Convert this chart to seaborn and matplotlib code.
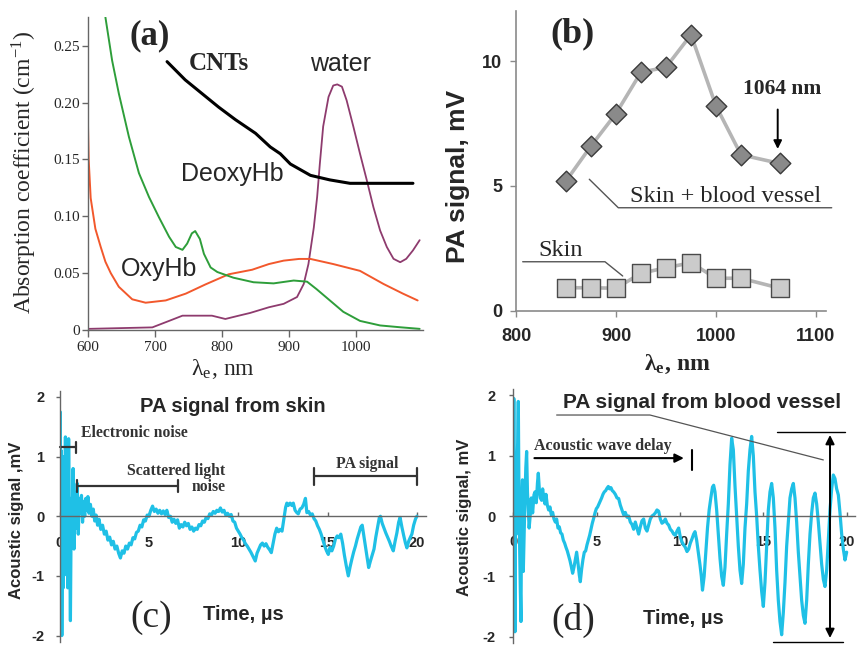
import matplotlib
matplotlib.use("Agg")
import matplotlib.pyplot as plt
import seaborn as sns

# ---------------- data ----------------
# (a) absorption spectra
wl_cnt = [718, 745, 770, 795, 820, 850, 872, 887, 902, 932, 961, 991, 1040, 1085]
ab_cnt = [0.236, 0.220, 0.208, 0.196, 0.185, 0.173, 0.161, 0.155, 0.146, 0.136, 0.132, 0.129, 0.129, 0.129]

wl_deoxy = [626, 636, 646, 661, 676, 691, 706, 721, 731, 741, 748, 755, 760, 767, 773, 783, 793,
            817, 847, 877, 907, 927, 941, 961, 981, 1006, 1036, 1066, 1095]
ab_deoxy = [0.275, 0.237, 0.208, 0.170, 0.138, 0.117, 0.099, 0.082, 0.073, 0.0705, 0.076, 0.085, 0.087,
            0.080, 0.067, 0.055, 0.051, 0.046, 0.042, 0.041, 0.0435, 0.0425, 0.036, 0.026, 0.016,
            0.008, 0.004, 0.0024, 0.001]

wl_oxy = [600, 601, 604, 611, 619, 626, 634, 646, 666, 686, 716, 746, 775, 810, 845, 870, 892,
          915, 932, 966, 1006, 1041, 1070, 1092]
ab_oxy = [0.180, 0.150, 0.116, 0.089, 0.073, 0.060, 0.050, 0.038, 0.027, 0.024, 0.026, 0.032,
          0.040, 0.049, 0.053, 0.058, 0.061, 0.0625, 0.0625, 0.058, 0.052, 0.0405, 0.032, 0.026]

wl_water = [600, 696, 721, 741, 785, 805, 825, 842, 870, 892, 912, 922, 929, 937, 942, 946, 951,
            959, 966, 972, 979, 986, 996, 1006, 1016, 1026, 1036, 1046, 1056, 1066, 1075, 1085, 1095]
ab_water = [0.001, 0.0023, 0.008, 0.0126, 0.0126, 0.0097, 0.0126, 0.015, 0.020, 0.023, 0.029,
            0.0405, 0.058, 0.090, 0.117, 0.146, 0.179, 0.205, 0.215, 0.216, 0.214, 0.202, 0.179,
            0.155, 0.132, 0.108, 0.0875, 0.073, 0.0626, 0.0596, 0.0626, 0.070, 0.079]

# (b) PA signal vs wavelength
wl_pa = [850, 875, 900, 925, 950, 975, 1000, 1025, 1064]
pa_vessel = [5.2, 6.6, 7.9, 9.55, 9.75, 11.05, 8.2, 6.25, 5.9]
pa_skin = [0.93, 0.93, 0.91, 1.51, 1.73, 1.93, 1.31, 1.31, 0.91]

# (c) PA signal from skin
t_skin = [0.00, 0.03, 0.06, 0.09, 0.12, 0.16, 0.20, 0.24, 0.28, 0.32, 0.36, 0.40, 0.45, 0.50, 0.55,
          0.60, 0.65, 0.70, 0.75, 0.80, 0.86, 0.92, 0.98, 1.04, 1.10, 1.16, 1.22, 1.28, 1.34, 1.40,
          1.46, 1.52, 1.58, 1.64, 1.72, 1.80, 1.88, 1.96, 2.04, 2.12, 2.20, 2.30, 2.40, 2.50, 2.60,
          2.70, 2.80, 2.90, 3.00, 3.10, 3.20, 3.30, 3.40, 3.50, 3.60, 3.70, 3.80, 3.90, 4.00, 4.10,
          4.20, 4.30, 4.40, 4.50, 4.60, 4.70, 4.80, 4.90, 5.00, 5.10, 5.20, 5.30, 5.40, 5.50, 5.60,
          5.70, 5.80, 5.90, 6.00, 6.10, 6.20, 6.30, 6.40, 6.50, 6.60, 6.70, 6.80, 6.90, 7.00, 7.10,
          7.20, 7.30, 7.40, 7.50, 7.60, 7.70, 7.80, 7.90, 8.00, 8.10, 8.20, 8.30, 8.40, 8.50, 8.60,
          8.70, 8.80, 8.90, 9.00, 9.10, 9.20, 9.30, 9.40, 9.50, 9.60, 9.70, 9.80, 9.90, 10.00, 10.10,
          10.20, 10.30, 10.40, 10.50, 10.60, 10.70, 10.80, 10.90, 10.95, 11.05, 11.15, 11.25, 11.35,
          11.45, 11.55, 11.65, 11.75, 11.85, 11.95, 12.05, 12.15, 12.25, 12.35, 12.45, 12.55, 12.65,
          12.72, 12.80, 12.90, 13.00, 13.08, 13.18, 13.28, 13.36, 13.46, 13.56, 13.66, 13.76, 13.84,
          13.94, 14.04, 14.14, 14.24, 14.34, 14.44, 14.54, 14.64, 14.74, 14.84, 14.94, 15.04, 15.14,
          15.24, 15.34, 15.44, 15.54, 15.64, 15.74, 15.84, 15.94, 16.04, 16.16, 16.26, 16.36, 16.46,
          16.56, 16.66, 16.76, 16.86, 16.94, 17.04, 17.14, 17.24, 17.30, 17.40, 17.50, 17.60, 17.70,
          17.80, 17.90, 17.96, 18.06, 18.16, 18.26, 18.36, 18.46, 18.56, 18.68, 18.78, 18.88, 18.98,
          19.06, 19.16, 19.26, 19.36, 19.44, 19.54, 19.64, 19.72, 19.82, 19.92, 20.00]
v_skin = [0.00, 1.75, -0.40, 1.10, -2.00, 0.60, -1.20, 1.00, -0.60, 1.33, -0.98, 0.90, -1.20, 1.30, -0.30,
          -1.75, 0.30, -0.50, 0.80, -0.55, 0.40, -0.20, 0.55, -0.30, 0.30, 0.05, 0.35, -0.10, 0.25, 0.00,
          0.30, 0.10, 0.33, 0.05, 0.20, 0.00, 0.12, -0.08, 0.02, -0.15, -0.05, -0.22, -0.15, -0.30, -0.25,
          -0.40, -0.35, -0.48, -0.42, -0.55, -0.50, -0.62, -0.70, -0.58, -0.62, -0.50, -0.55, -0.45, -0.48, -0.36,
          -0.38, -0.27, -0.25, -0.15, -0.18, -0.06, -0.08, 0.02, 0.00, 0.10, 0.17, 0.08, 0.12, 0.05, 0.10,
          0.04, 0.09, 0.03, 0.10, -0.02, 0.00, -0.10, -0.05, -0.12, -0.06, -0.20, -0.14, -0.18, -0.10, -0.16,
          -0.12, -0.22, -0.18, -0.25, -0.20, -0.22, -0.14, -0.16, -0.08, -0.10, -0.02, -0.04, 0.04, 0.02, 0.08,
          0.05, 0.10, 0.08, 0.14, 0.07, 0.10, 0.02, 0.05, 0.00, 0.03, -0.08, -0.10, -0.20, -0.25, -0.30,
          -0.36, -0.40, -0.46, -0.50, -0.55, -0.60, -0.66, -0.72, -0.75, -0.62, -0.55, -0.48, -0.45,
          -0.50, -0.46, -0.52, -0.56, -0.61, -0.45, -0.30, -0.20, -0.26, -0.22, -0.25, -0.05, 0.15,
          0.22, 0.18, 0.22, 0.18, 0.22, 0.10, 0.06, 0.04, 0.12, 0.14, 0.20, 0.30, 0.06,
          0.08, 0.02, 0.04, -0.04, -0.08, -0.16, -0.22, -0.30, -0.40, -0.50, -0.58, -0.64, -0.52,
          -0.58, -0.50, -0.38, -0.33, -0.36, -0.30, -0.45, -0.65, -0.82, -1.00, -0.85, -0.72, -0.60,
          -0.50, -0.38, -0.28, -0.18, -0.15, -0.35, -0.55, -0.75, -0.86, -0.75, -0.65, -0.55, -0.35,
          -0.18, -0.02, 0.00, -0.12, -0.20, -0.28, -0.35, -0.42, -0.50, -0.58, -0.42, -0.28, -0.10,
          -0.02, -0.18, -0.32, -0.45, -0.53, -0.42, -0.35, -0.30, -0.15, -0.05, 0.00]

# (d) PA signal from blood vessel
t_vessel = [0.00, 0.03, 0.07, 0.10, 0.14, 0.18, 0.22, 0.26, 0.30, 0.34, 0.38, 0.42, 0.46, 0.50, 0.55,
            0.60, 0.65, 0.70, 0.75, 0.80, 0.85, 0.90, 0.95, 1.00, 1.08, 1.16, 1.24, 1.30, 1.38, 1.45,
            1.50, 1.56, 1.62, 1.70, 1.76, 1.82, 1.90, 1.96, 2.04, 2.12, 2.20, 2.28, 2.36, 2.44, 2.52,
            2.60, 2.68, 2.76, 2.84, 2.92, 3.00, 3.08, 3.16, 3.24, 3.32, 3.40, 3.48, 3.56, 3.64, 3.72,
            3.80, 3.88, 3.96, 4.02, 4.10, 4.18, 4.26, 4.34, 4.42, 4.50, 4.58, 4.66, 4.74, 4.82, 4.90,
            4.98, 5.06, 5.14, 5.22, 5.30, 5.38, 5.46, 5.54, 5.62, 5.70, 5.78, 5.86, 5.94, 6.02, 6.12,
            6.22, 6.32, 6.42, 6.52, 6.62, 6.72, 6.82, 6.92, 7.02, 7.12, 7.22, 7.32, 7.42, 7.52, 7.62,
            7.72, 7.82, 7.92, 8.02, 8.12, 8.22, 8.32, 8.42, 8.52, 8.62, 8.72, 8.82, 8.92, 9.02, 9.12,
            9.22, 9.32, 9.42, 9.52, 9.62, 9.72, 9.82, 9.92, 10.02, 10.12, 10.22, 10.32, 10.42, 10.52,
            10.62, 10.72, 10.82, 10.90, 11.00, 11.10, 11.20, 11.28, 11.35, 11.45, 11.55, 11.65, 11.75,
            11.85, 11.95, 12.02, 12.10, 12.20, 12.30, 12.40, 12.50, 12.60, 12.70, 12.80, 12.90, 13.00,
            13.10, 13.20, 13.30, 13.40, 13.50, 13.60, 13.70, 13.80, 13.90, 14.00, 14.10, 14.20, 14.30,
            14.40, 14.50, 14.60, 14.70, 14.80, 14.90, 15.00, 15.10, 15.20, 15.30, 15.40, 15.50, 15.60,
            15.70, 15.80, 15.90, 16.00, 16.10, 16.20, 16.30, 16.40, 16.50, 16.60, 16.70, 16.80, 16.90,
            17.00, 17.10, 17.20, 17.30, 17.40, 17.50, 17.60, 17.70, 17.80, 17.90, 18.00, 18.10, 18.20,
            18.30, 18.40, 18.50, 18.60, 18.70, 18.80, 18.90, 19.00, 19.10, 19.20, 19.30, 19.40, 19.50,
            19.60, 19.70, 19.80, 19.90, 20.00]
v_vessel = [0.00, 1.95, -0.60, -1.92, 0.60, -0.30, 0.80, 1.20, 1.90, 0.40, -0.50, -1.20, -1.75, 0.20, 0.60,
            -0.92, -0.30, 0.30, 0.80, 1.07, 0.40, 0.10, -0.20, -0.04, 0.30, 0.05, 0.35, 0.40, 0.22, 0.55,
            0.71, 0.45, 0.30, 0.26, 0.45, 0.32, 0.20, 0.36, 0.18, 0.10, 0.15, 0.02, 0.06, -0.05, -0.10,
            -0.05, -0.20, -0.18, -0.28, -0.30, -0.40, -0.45, -0.52, -0.58, -0.66, -0.74, -0.84, -0.95, -0.85, -0.72,
            -0.60, -0.78, -0.98, -1.09, -0.88, -0.72, -0.60, -0.58, -0.48, -0.40, -0.32, -0.22, -0.12, -0.04, 0.05,
            0.12, 0.15, 0.20, 0.25, 0.30, 0.36, 0.40, 0.42, 0.46, 0.49, 0.45, 0.47, 0.42, 0.40, 0.36,
            0.30, 0.29, 0.18, 0.10, 0.02, 0.06, -0.02, 0.00, -0.10, -0.14, -0.22, -0.10, -0.20, -0.30, -0.18,
            -0.08, -0.05, -0.20, -0.25, -0.15, -0.05, 0.00, 0.02, 0.05, 0.10, 0.08, -0.05, -0.12, -0.10, -0.05,
            -0.12, -0.15, -0.22, -0.25, -0.30, -0.32, -0.25, -0.20, -0.35, -0.43, -0.48, -0.52, -0.59, -0.55,
            -0.45, -0.38, -0.30, -0.26, -0.40, -0.60, -0.81, -1.00, -1.23, -1.00, -0.60, -0.20, 0.10,
            0.30, 0.48, 0.51, 0.40, 0.10, -0.30, -0.70, -1.00, -1.15, -0.85, -0.30, 0.20, 0.85,
            1.29, 1.10, 0.50, 0.00, -0.50, -0.90, -1.12, -0.80, -0.20, 0.20, 0.75, 1.10, 1.32,
            1.00, 0.40, 0.00, -0.50, -0.90, -1.25, -1.50, -1.10, -0.50, 0.10, 0.40, 0.54, 0.30,
            -0.20, -0.90, -1.40, -1.75, -1.97, -1.60, -1.10, -0.50, -0.10, 0.30, 0.45, 0.54, 0.30,
            -0.10, -0.60, -1.00, -1.40, -1.65, -1.78, -1.40, -0.80, -0.30, 0.05, 0.30, 0.38, 0.20,
            -0.10, -0.45, -0.80, -1.05, -1.17, -0.90, -0.40, 0.10, 0.45, 0.68, 0.62, 0.45, 0.35,
            0.05, -0.30, -0.55, -0.73, -0.60]

x_ticks_a = [600, 700, 800, 900, 1000]
y_ticks_a = [0, 0.05, 0.10, 0.15, 0.20, 0.25]
y_labels_a = ["0", "0.05", "0.10", "0.15", "0.20", "0.25"]
x_ticks_b = [800, 900, 1000, 1100]
y_ticks_b = [0, 5, 10]
t_ticks = [0, 5, 10, 15, 20]
v_ticks = [-2, -1, 0, 1, 2]

# ---------------- style ----------------
sns.set_style("white")
plt.rcParams["font.family"] = ["Liberation Sans", "DejaVu Sans"]
plt.rcParams["mathtext.fontset"] = "stix"
SERIF = ["Liberation Serif", "DejaVu Serif"]
SANS = ["Liberation Sans", "DejaVu Sans"]

W, H = 857, 645
fig = plt.figure(figsize=(W / 100, H / 100), dpi=100)


def axes_px(l, t, r, b):
    return fig.add_axes([l / W, 1 - b / H, (r - l) / W, (b - t) / H])


def ftext(px, py, s, **kw):
    kw.setdefault("ha", "center")
    kw.setdefault("va", "center")
    fig.text(px / W, 1 - py / H, s, **kw)


CYAN = "#1fc0e6"
AXC = "#666666"

# ---------------- (a) ----------------
ax = axes_px(88, 17.3, 423, 330)
ax.set_xlim(600, 1100)
ax.set_ylim(0, 0.275)
sns.lineplot(x=wl_water, y=ab_water, ax=ax, color="#8e3b6e", lw=1.3, estimator=None, sort=False)
sns.lineplot(x=wl_oxy, y=ab_oxy, ax=ax, color="#f2582c", lw=1.4, estimator=None, sort=False)
sns.lineplot(x=wl_deoxy, y=ab_deoxy, ax=ax, color="#2e9e3a", lw=1.4, estimator=None, sort=False)
sns.lineplot(x=wl_cnt, y=ab_cnt, ax=ax, color="black", lw=2.2, estimator=None, sort=False)
for s in ["top", "right"]:
    ax.spines[s].set_visible(False)
for s in ["left", "bottom"]:
    ax.spines[s].set_color(AXC)
    ax.spines[s].set_linewidth(1.0)
ax.set_xticks(x_ticks_a)
ax.set_xticklabels([str(v) for v in x_ticks_a], family=SERIF, fontsize=11)
ax.set_yticks(y_ticks_a)
ax.set_yticklabels(y_labels_a, family=SERIF, fontsize=11)
ax.tick_params(axis="x", direction="out", length=5, width=1, color=AXC, pad=3, bottom=True)
ax.tick_params(axis="y", direction="out", length=4, width=1, color=AXC, pad=2, left=True)
ax.set_xlabel("")
ax.set_ylabel("")

ftext(150, 36, "(a)", family=SERIF, fontsize=25, weight="bold")
ftext(219, 64, "CNTs", family=SERIF, fontsize=18, weight="bold")
ftext(341, 64, "water", family=SANS, fontsize=18)
ftext(232, 174, "DeoxyHb", family=SANS, fontsize=18)
ftext(159, 269, "OxyHb", family=SANS, fontsize=18)
ftext(24, 172, "Absorption coefficient (cm$^{\\mathregular{-1}}$)", family=SERIF, fontsize=17,
      rotation=90)
ftext(223, 369, "λ$_{\\mathregular{e}}$, nm", family=SERIF, fontsize=17)

# ---------------- (b) ----------------
bx = axes_px(516, 11, 826, 311)
bx.set_xlim(800, 1110)
bx.set_ylim(0, 12)
sns.lineplot(x=wl_pa, y=pa_vessel, ax=bx, color="#b5b5b5", lw=2.6, estimator=None, zorder=2)
sns.lineplot(x=wl_pa, y=pa_skin, ax=bx, color="#b5b5b5", lw=2.6, estimator=None, zorder=2)
sns.scatterplot(x=wl_pa, y=pa_vessel, ax=bx, marker="D", s=110, color="#8a8a8a",
                edgecolor="#3a3a3a", linewidth=1.0, zorder=3)
sns.scatterplot(x=wl_pa, y=pa_skin, ax=bx, marker="s", s=170, color="#cbcbcb",
                edgecolor="#4a4a4a", linewidth=1.0, zorder=3)
for s in ["top", "right"]:
    bx.spines[s].set_visible(False)
for s in ["left", "bottom"]:
    bx.spines[s].set_color("#8a8a8a")
    bx.spines[s].set_linewidth(1.2)
bx.set_xticks(x_ticks_b)
bx.set_xticklabels([str(v) for v in x_ticks_b], family=SANS, fontsize=13, weight="bold")
bx.set_yticks(y_ticks_b)
bx.set_yticklabels([str(v) for v in y_ticks_b], family=SANS, fontsize=13, weight="bold")
bx.tick_params(axis="x", direction="out", length=4, width=1, color="#8a8a8a", pad=8, bottom=True)
bx.tick_params(axis="y", direction="out", length=4, width=1, color="#8a8a8a", pad=6, left=True)
bx.set_xlabel("")
bx.set_ylabel("")

bx.plot([873.3, 902.3, 1115.7], [5.27, 4.13, 4.13], color="#555555", lw=1.0, clip_on=False)
bx.plot([806.7, 889, 906.7], [1.97, 1.97, 1.4], color="#555555", lw=1.0, clip_on=False)
bx.annotate("", xy=(1061.7, 6.37), xytext=(1061.7, 8.17),
            arrowprops=dict(arrowstyle="-|>", color="black", lw=1.4, mutation_scale=12))
ftext(572, 34, "(b)", family=SERIF, fontsize=26, weight="bold")
ftext(782, 89, "1064 nm", family=SERIF, fontsize=15.5, weight="bold")
ftext(726, 196, "Skin + blood vessel", family=SERIF, fontsize=17.5)
ftext(561, 250, "Skin", family=SERIF, fontsize=17.5)
ftext(458, 176, "PA signal, mV", family=SANS, fontsize=19, weight="bold", rotation=90)
ftext(677, 364, "λ$_{\\mathregular{e}}$, nm", family=SERIF, fontsize=17, weight="bold")


# ---------------- (c) and (d) shared styling ----------------
def style_signal(a, ypad):
    a.set_xlim(0, 20.5)
    a.set_ylim(-2.1, 2.1)
    for s in ["top", "right"]:
        a.spines[s].set_visible(False)
    a.spines["bottom"].set_position(("data", 0))
    a.spines["left"].set_position(("data", 0))
    for s in ["left", "bottom"]:
        a.spines[s].set_color(AXC)
        a.spines[s].set_linewidth(1.0)
    a.set_xticks(t_ticks)
    a.set_xticklabels([str(v) for v in t_ticks], family=SANS, fontsize=10.5, weight="bold")
    a.set_yticks(v_ticks)
    a.set_yticklabels([str(v) for v in v_ticks], family=SANS, fontsize=10.5, weight="bold")
    a.tick_params(axis="x", direction="in", length=3, width=1, color=AXC, pad=14, bottom=True)
    a.tick_params(axis="y", direction="out", length=3, width=1, color=AXC, pad=ypad, left=True)
    a.set_xlabel("")
    a.set_ylabel("")


# ---------------- (c) ----------------
cx = axes_px(59.7, 391, 425.8, 641.5)
sns.lineplot(x=t_skin, y=v_skin, ax=cx, color=CYAN, lw=2.3, estimator=None, sort=False)
style_signal(cx, 8)
bar = dict(color="#333333", lw=1.6, clip_on=False)
cx.plot([0, 0.91], [1.155, 1.155], **bar)
cx.plot([0.91, 0.91], [1.06, 1.25], **bar)
cx.plot([0.97, 6.62], [0.505, 0.505], **bar)
cx.plot([0.97, 0.97], [0.41, 0.60], **bar)
cx.plot([6.62, 6.62], [0.41, 0.60], **bar)
cx.plot([14.24, 20.0], [0.67, 0.67], **bar)
cx.plot([14.24, 14.24], [0.53, 0.81], **bar)
cx.plot([20.0, 20.0], [0.53, 0.81], **bar)
ftext(233, 407, "PA signal from skin", family=SANS, fontsize=14.5, weight="bold")
ftext(134, 433, "Electronic noise", family=SERIF, fontsize=11.3, weight="bold", color="#333333")
ftext(176, 471, "Scattered light", family=SERIF, fontsize=11.3, weight="bold", color="#333333")
ftext(209, 487, "noise", family=SERIF, fontsize=11.3, weight="bold", color="#333333")
ftext(367, 464, "PA signal", family=SERIF, fontsize=11.3, weight="bold", color="#333333")
ftext(151, 618, "(c)", family=SERIF, fontsize=27)
ftext(243, 615, "Time, µs", family=SANS, fontsize=14.5, weight="bold")
ftext(17, 520, "Acoustic signal ,mV", family=SANS, fontsize=12, weight="bold", rotation=90)

# ---------------- (d) ----------------
dx = axes_px(513.3, 389.4, 855, 642.6)
sns.lineplot(x=t_vessel, y=v_vessel, ax=dx, color=CYAN, lw=2.3, estimator=None, sort=False)
style_signal(dx, 10)
dx.set_xlim(0, 20.5)
dx.plot([2.6, 8.2, 18.6], [1.675, 1.675, 0.93], color="#555555", lw=0.9, clip_on=False)
dx.annotate("", xy=(10.4, 0.96), xytext=(1.1, 0.96),
            arrowprops=dict(arrowstyle="-|>", color="black", lw=1.5, mutation_scale=13))
dx.plot([10.7, 10.7], [0.76, 1.09], color="black", lw=1.5)
dx.plot([15.8, 19.9], [1.40, 1.40], color="black", lw=1.0, clip_on=False)
dx.plot([15.6, 19.8], [-2.09, -2.09], color="black", lw=1.0, clip_on=False)
dx.annotate("", xy=(19.0, -2.07), xytext=(19.0, 1.39),
            arrowprops=dict(arrowstyle="<|-|>", color="black", lw=1.4, mutation_scale=13),
            annotation_clip=False)
ftext(702, 402, "PA signal from blood vessel", family=SANS, fontsize=15, weight="bold")
ftext(603, 446, "Acoustic wave delay", family=SERIF, fontsize=11.5, weight="bold", color="#333333")
ftext(573, 620, "(d)", family=SERIF, fontsize=27)
ftext(683, 618, "Time, µs", family=SANS, fontsize=14.5, weight="bold")
ftext(465, 517, "Acoustic signal, mV", family=SANS, fontsize=12, weight="bold", rotation=90)

fig.savefig("out.png", dpi=100)
